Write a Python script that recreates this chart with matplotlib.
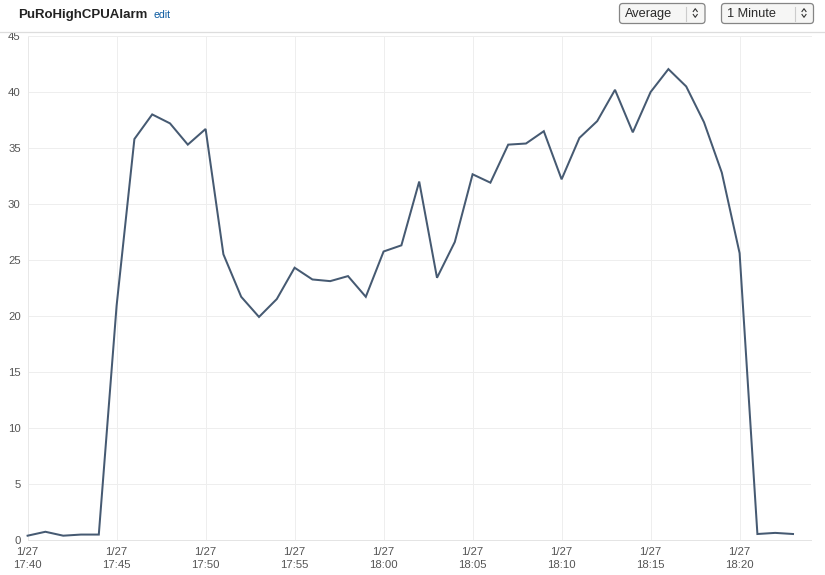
import matplotlib
matplotlib.use("Agg")
import matplotlib.pyplot as plt
from matplotlib.patches import FancyBboxPatch
from matplotlib.lines import Line2D

plt.rcParams['font.family'] = ['Liberation Sans', 'DejaVu Sans']

minutes = list(range(44))
cpu = [0.35, 0.7, 0.35, 0.45, 0.45, 20.9, 35.8, 38.0, 37.2, 35.3, 36.7,
       25.5, 21.7, 19.9, 21.5, 24.3, 23.25, 23.1, 23.55, 21.7, 25.75,
       26.3, 32.0, 23.4, 26.6, 32.65, 31.9, 35.3, 35.4, 36.5, 32.2,
       35.9, 37.4, 40.2, 36.4, 40.0, 42.05, 40.5, 37.3, 32.8, 25.6,
       0.5, 0.6, 0.5]
x_ticks = [0, 5, 10, 15, 20, 25, 30, 35, 40]
x_labels = ['1/27\n17:40', '1/27\n17:45', '1/27\n17:50', '1/27\n17:55', '1/27\n18:00',
            '1/27\n18:05', '1/27\n18:10', '1/27\n18:15', '1/27\n18:20']
y_ticks = [0, 5, 10, 15, 20, 25, 30, 35, 40, 45]

W, H = 825, 575
fig = plt.figure(figsize=(W / 100, H / 100), dpi=100, facecolor='white')
L, R, T, B = 27.6, 811, 36.1, 539.6
ax = fig.add_axes([L / W, 1 - B / H, (R - L) / W, (B - T) / H])
ax.plot(minutes, cpu, color='#465a72', lw=1.45, solid_joinstyle='miter', clip_on=False, zorder=3)
ax.set_xlim(0, (R - L) / 17.8)
ax.set_ylim(0, 45)
ax.set_xticks(x_ticks)
ax.set_xticklabels(x_labels, linespacing=1.4)
ax.set_yticks(y_ticks)
ax.grid(True, color='#eeeeee', lw=0.72)
ax.set_axisbelow(True)
for side in ['top', 'bottom', 'left']:
    ax.spines[side].set_linewidth(0.72)
ax.spines['right'].set_visible(False)
ax.spines['bottom'].set_color('#e4e4e4')
ax.spines['left'].set_color('#e8e8e8')
ax.spines['top'].set_color('#eeeeee')
ax.tick_params(length=0, labelsize=8.2, labelcolor='#555555')
ax.tick_params(axis='x', pad=5)
ax.tick_params(axis='y', pad=5)

def fx(p): return p / W
def fy(p): return 1 - p / H

fig.add_artist(Line2D([0, 1], [fy(31.5)] * 2, color='#dddddd', lw=0.9))
fig.text(fx(18.5), fy(14.6), 'PuRoHighCPUAlarm', fontsize=9.55, fontweight='bold', color='#222222',
         va='center', ha='left')
fig.text(fx(154), fy(15), 'edit', fontsize=7.6, color='#0a5aa0', va='center', ha='left')

def select(x0, x1, label, div):
    patch = FancyBboxPatch((fx(x0), fy(23.5)), (x1 - x0) / W, 20 / H,
                           boxstyle='round,pad=0,rounding_size=0.004', mutation_aspect=W / H,
                           transform=fig.transFigure, facecolor='#f6f6f5', edgecolor='#858585', lw=0.9)
    fig.add_artist(patch)
    fig.text(fx(x0 + 5.5), fy(14), label, fontsize=9.2, color='#2a2a2a', va='center', ha='left')
    fig.add_artist(Line2D([fx(div)] * 2, [fy(6.5), fy(20.5)], color='#cccccc', lw=0.8))
    cx = (div + x1) / 2
    fig.add_artist(Line2D([fx(cx - 2), fx(cx), fx(cx + 2)], [fy(11.5), fy(8.7), fy(11.5)],
                          color='#333333', lw=0.8))
    fig.add_artist(Line2D([fx(cx - 2), fx(cx), fx(cx + 2)], [fy(14.5), fy(17.3), fy(14.5)],
                          color='#333333', lw=0.8))

select(619.5, 705, 'Average', 685.5)
select(721.5, 813.5, '1 Minute', 794.5)

fig.savefig('out.png', dpi=100)
